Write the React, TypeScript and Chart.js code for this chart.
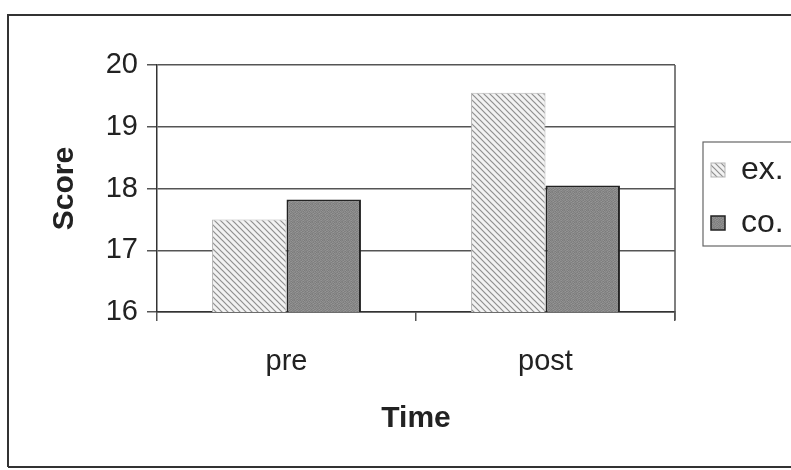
import React, { useEffect, useRef } from "react";
import { Chart, registerables } from "chart.js";

Chart.register(...registerables);

const categories = ["pre", "post"];
const seriesNames = ["ex.", "co."];
const exValues = [17.5, 19.55];
const coValues = [17.82, 18.05];
const yTicks = [16, 17, 18, 19, 20];

const FONT = "'Liberation Sans', Arial, Helvetica, sans-serif";

function makeHatch(): CanvasPattern | string {
  const c = document.createElement("canvas");
  c.width = 6;
  c.height = 6;
  const g = c.getContext("2d");
  if (!g) return "#ddd";
  g.fillStyle = "#f2f2f2";
  g.fillRect(0, 0, 6, 6);
  g.strokeStyle = "#8f8f8f";
  g.lineWidth = 1.2;
  g.beginPath();
  g.moveTo(-1, -1);
  g.lineTo(7, 7);
  g.moveTo(-4, 2);
  g.lineTo(4, 10);
  g.moveTo(2, -4);
  g.lineTo(10, 4);
  g.stroke();
  return g.createPattern(c, "repeat") || "#ddd";
}

function makeMottle(): CanvasPattern | string {
  const c = document.createElement("canvas");
  c.width = 6;
  c.height = 6;
  const g = c.getContext("2d");
  if (!g) return "#888";
  const shades = [
    "#7e7e7e", "#8c8c8c", "#858585", "#949494", "#7a7a7a", "#888888",
    "#909090", "#828282", "#8a8a8a", "#7c7c7c", "#939393", "#868686",
    "#858585", "#7f7f7f", "#929292", "#898989", "#818181", "#8e8e8e",
    "#8b8b8b", "#969696", "#7d7d7d", "#848484", "#8f8f8f", "#7b7b7b",
    "#878787", "#808080", "#8d8d8d", "#959595", "#838383", "#8a8a8a",
    "#7f7f7f", "#919191", "#868686", "#7c7c7c", "#8c8c8c", "#838383",
  ];
  for (let i = 0; i < 36; i++) {
    g.fillStyle = shades[i];
    g.fillRect(i % 6, Math.floor(i / 6), 1, 1);
  }
  return g.createPattern(c, "repeat") || "#888";
}

const framePlugin = {
  id: "frame",
  afterDraw(chart: any) {
    const ctx = chart.ctx as CanvasRenderingContext2D;
    const a = chart.chartArea;
    ctx.save();
    // outer frame
    ctx.strokeStyle = "#333";
    ctx.lineWidth = 2;
    ctx.beginPath();
    ctx.moveTo(8, 467);
    ctx.lineTo(8, 15);
    ctx.lineTo(800, 15);
    ctx.moveTo(8, 467);
    ctx.lineTo(800, 467);
    ctx.stroke();
    // plot right border
    ctx.strokeStyle = "#555";
    ctx.lineWidth = 1.5;
    ctx.beginPath();
    ctx.moveTo(a.right, a.top);
    ctx.lineTo(a.right, a.bottom + 8);
    ctx.stroke();
    // legend
    const lx = 703, ly = 142, lw = 100, lh = 104;
    ctx.strokeStyle = "#666";
    ctx.lineWidth = 1.2;
    ctx.strokeRect(lx, ly, lw, lh);
    const ds = chart.data.datasets;
    const rows = [170, 223];
    ctx.font = `32px ${FONT}`;
    ctx.textBaseline = "middle";
    ctx.textAlign = "left";
    for (let i = 0; i < ds.length; i++) {
      const y = rows[i];
      ctx.fillStyle = ds[i].backgroundColor;
      ctx.fillRect(711, y - 7, 14, 14);
      ctx.strokeStyle = ds[i].borderColor;
      ctx.lineWidth = i === 0 ? 1 : 1.5;
      ctx.strokeRect(711, y - 7, 14, 14);
      ctx.fillStyle = "#222";
      ctx.fillText(ds[i].label, 741, y);
    }
    ctx.restore();
  },
};

export default function App() {
  const ref = useRef<HTMLCanvasElement | null>(null);
  useEffect(() => {
    if (!ref.current) return;
    const chart = new Chart(ref.current, {
      type: "bar",
      data: {
        labels: categories,
        datasets: [
          {
            label: seriesNames[0],
            data: exValues,
            backgroundColor: makeHatch() as any,
            borderColor: "#b5b5b5",
            borderWidth: 1,
            categoryPercentage: 0.575,
            barPercentage: 1,
          },
          {
            label: seriesNames[1],
            data: coValues,
            backgroundColor: makeMottle() as any,
            borderColor: "#222",
            borderWidth: 2,
            categoryPercentage: 0.575,
            barPercentage: 1,
          },
        ],
      },
      options: {
        responsive: false,
        animation: false,
        events: [],
        layout: { padding: { left: 43, right: 116, top: 65, bottom: 29 } },
        plugins: { legend: { display: false }, tooltip: { enabled: false } },
        scales: {
          x: {
            offset: true,
            grid: {
              offset: true,
              drawOnChartArea: false,
              drawTicks: true,
              tickLength: 9,
              color: "#555",
              lineWidth: 1.5,
            },
            border: { display: true, color: "#333", width: 1.5 },
            ticks: {
              color: "#222",
              font: { family: FONT, size: 29 },
              padding: 24,
              maxRotation: 0,
            },
            title: {
              display: true,
              text: "Time",
              color: "#222",
              font: { family: FONT, size: 30, weight: "bold" },
              padding: { top: 4, bottom: 4 },
            },
            afterFit: (s: any) => {
              s.height = 129;
            },
          },
          y: {
            min: yTicks[0],
            max: yTicks[yTicks.length - 1],
            afterBuildTicks: (s: any) => {
              s.ticks = yTicks.map((v) => ({ value: v }));
            },
            grid: {
              color: "#555",
              lineWidth: 1.5,
              drawTicks: true,
              tickLength: 10,
            },
            border: { display: true, color: "#333", width: 1.5 },
            ticks: {
              color: "#222",
              font: { family: FONT, size: 29 },
              padding: 9,
            },
            title: {
              display: true,
              text: "Score",
              color: "#222",
              font: { family: FONT, size: 30, weight: "bold" },
              padding: { top: 4, bottom: 4 },
            },
            afterFit: (s: any) => {
              s.width = 114;
            },
          },
        },
      },
      plugins: [framePlugin],
    });
    return () => chart.destroy();
  }, []);
  return (
    <div style={{ position: "fixed", left: 0, top: 0, width: 791, height: 470, background: "#fff" }}>
      <canvas ref={ref} width={791} height={470} style={{ width: 791, height: 470, display: "block" }} />
    </div>
  );
}
